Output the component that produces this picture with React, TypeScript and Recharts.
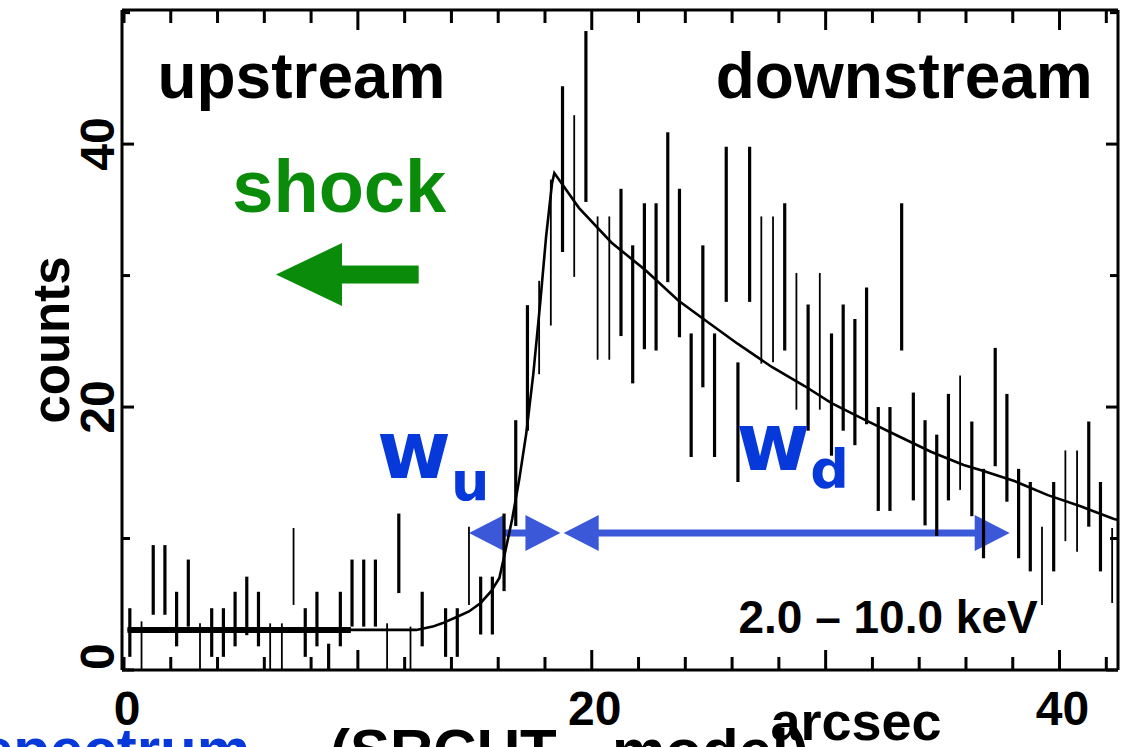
import React from 'react';
import {
  ComposedChart,
  XAxis,
  YAxis,
  Scatter,
  ErrorBar,
  Line,
  ReferenceLine,
  ReferenceDot,
  Label,
} from 'recharts';

const FONT = '"Liberation Sans", Arial, Helvetica, sans-serif';
const W_FONT = '"DejaVu Sans", Verdana, sans-serif';
const GREEN = '#0a8c0a';
const ARROW_BLUE = '#3b58d9';
const TEXT_BLUE = '#0638da';

// 0.5" profile bins (arcsec)
const binCenters = [
  0.25, 0.75, 1.25, 1.75, 2.25, 2.75, 3.25, 3.75, 4.25, 4.75,
  5.25, 5.75, 6.25, 6.75, 7.25, 7.75, 8.25, 8.75, 9.25, 9.75,
  10.25, 10.75, 11.25, 11.75, 12.25, 12.75, 13.25, 13.75, 14.25, 14.75,
  15.25, 15.75, 16.25, 16.75, 17.25, 17.75, 18.25, 18.75, 19.25, 19.75,
  20.25, 20.75, 21.25, 21.75, 22.25, 22.75, 23.25, 23.75, 24.25, 24.75,
  25.25, 25.75, 26.25, 26.75, 27.25, 27.75, 28.25, 28.75, 29.25, 29.75,
  30.25, 30.75, 31.25, 31.75, 32.25, 32.75, 33.25, 33.75, 34.25, 34.75,
  35.25, 35.75, 36.25, 36.75, 37.25, 37.75, 38.25, 38.75, 39.25, 39.75,
  40.25, 40.75, 41.25, 41.75, 42.25,
];

// lower / upper end of each error bar (counts); null = empty bin
const countsLow = [
  1.0, 0, 4.2, 4.2, 1.8, 3.3, 0, 1.0, 1.0, 1.8,
  2.65, 1.8, 0, 0, 4.95, 1.0, 1.8, 0, 1.8, 3.3,
  3.3, 3.3, 0, 5.85, 0, 1.8, null, 1.0, 1.0, 4.95,
  2.7, 2.7, 6.0, 10.95, 18.2, 22.5, 26.2, 31.8, 29.9, 35.6,
  23.6, 23.6, 25.4, 21.8, 24.4, 24.3, 29.5, 25.3, 16.2, 21.5,
  16.2, 28.0, 14.3, 28.0, 23.3, 23.4, 24.3, 19.8, 18.2, 19.8,
  16.3, 18.2, 17.1, 18.7, 12.1, 12.1, 24.3, 12.9, 11.0, 10.2,
  12.9, 13.7, 11.7, 8.5, 15.5, 12.8, 8.5, 7.5, 4.95, 7.5,
  9.8, 9.0, 10.9, 7.5, 5.1,
];
const countsHigh = [
  4.7, 3.7, 9.5, 9.5, 5.95, 8.4, 3.55, 4.7, 4.7, 5.95,
  7.1, 5.95, 3.55, 3.55, 10.8, 4.7, 5.95, 2.0, 5.95, 8.4,
  8.4, 8.4, 3.55, 11.9, 3.3, 5.95, null, 4.7, 4.7, 10.9,
  7.1, 7.1, 11.9, 19.0, 27.75, 29.6, 37.3, 44.4, 42.2, 48.6,
  34.5, 34.5, 36.6, 32.3, 35.5, 35.5, 40.9, 36.6, 25.6, 32.3,
  25.6, 39.8, 23.4, 39.8, 34.5, 34.5, 35.5, 30.2, 27.8, 30.2,
  25.6, 27.8, 26.7, 29.1, 20.0, 20.0, 35.5, 21.1, 19.0, 17.9,
  21.0, 22.4, 18.9, 15.3, 24.5, 21.0, 15.3, 14.3, 10.9, 14.3,
  16.7, 16.7, 18.9, 14.3, 10.8,
];
// bins printed with a hairline instead of the heavy stroke
const thinBins = [
  0.75, 3.25, 6.25, 6.75, 7.25, 11.25, 12.25, 14.75, 17.75, 18.25, 19.25,
  20.25, 20.75, 27.25, 27.75, 28.75, 29.75, 35.75, 39.25, 40.25, 40.75, 42.25,
];

// SRCUT model profile
const fitX = [
  0.15, 9.7, 12.5, 13.2, 13.6, 14.25, 14.75, 15.25, 15.7, 16.05, 16.3, 16.6,
  16.9, 17.2, 17.5, 17.8, 18.05, 18.3, 18.4, 19.45, 20.85, 22.3, 23.7, 24.85,
  26.25, 27.7, 29.1, 30.25, 31.7, 33.1, 34.5, 35.9, 36.65, 38.1, 39.5, 40.9,
  42.3, 42.5,
];
const fitY = [
  3.05, 3.05, 3.05, 3.3, 3.55, 4.05, 4.45, 5.1, 6.0, 7.0, 9.0, 11.5,
  14.5, 18.0, 22.5, 28.0, 33.0, 37.0, 37.8, 35.15, 32.5, 30.4, 28.1, 26.6,
  24.8, 23.05, 21.6, 20.3, 19.0, 17.8, 16.6, 15.6, 15.2, 14.35, 13.3, 12.45,
  11.5, 11.4,
];
const fitHeavyUntil = 9.7;

const xTicks = [0, 2, 4, 6, 8, 10, 12, 14, 16, 18, 20, 22, 24, 26, 28, 30, 32, 34, 36, 38, 40, 42];
const xMajorTicks = [10, 20, 30, 40];
const xTickLabels = [0, 20, 40];
const yTicks = [0, 10, 20, 30, 40, 50];
const yTickLabels = [0, 20, 40];

// widths W_u / W_d and the shock direction arrow (arcsec, counts)
const wuSpan = [14.75, 18.66];
const wdSpan = [18.8, 37.87];
const spanLevel = 10.42;
const shockArrow = [12.6, 6.5];
const shockLevel = 30.08;

const bars = binCenters.flatMap((x, i) => {
  const lo = countsLow[i];
  const hi = countsHigh[i];
  if (lo == null || hi == null) return [];
  return [{ x, y: (lo + hi) / 2, err: (hi - lo) / 2, thin: thinBins.includes(x) }];
});
const heavyBars = bars.filter((b) => !b.thin);
const lightBars = bars.filter((b) => b.thin);

const fit = fitX.map((x, i) => ({ x, y: fitY[i] }));
const fitFlat = fit.filter((p) => p.x <= fitHeavyUntil);

const BottomTick = ({ x, y, payload }: any) => {
  const v = payload.value;
  const len = xMajorTicks.includes(v) ? 20 : 13;
  return (
    <g>
      <line x1={x} x2={x} y1={y} y2={y - len} stroke="#000" strokeWidth={3} />
      {xTickLabels.includes(v) && (
        <text x={x + 3} y={y + 55} textAnchor="middle" fontFamily={FONT} fontWeight="bold" fontSize={48} fill="#000">
          {v}
        </text>
      )}
    </g>
  );
};

const TopTick = ({ x, y, payload }: any) => {
  const len = xMajorTicks.includes(payload.value) ? 20 : 13;
  return <line x1={x} x2={x} y1={y} y2={y + len} stroke="#000" strokeWidth={3} />;
};

const LeftTick = ({ x, y, payload }: any) => {
  const v = payload.value;
  const len = yTickLabels.includes(v) ? 12 : 8;
  return (
    <g>
      <line x1={x} x2={x + len} y1={y} y2={y} stroke="#000" strokeWidth={3} />
      {yTickLabels.includes(v) && (
        <text
          transform={`translate(${x - 8}, ${y}) rotate(-90)`}
          textAnchor={v === 0 ? 'start' : 'middle'}
          fontFamily={FONT}
          fontWeight="bold"
          fontSize={48}
          fill="#000"
        >
          {v}
        </text>
      )}
    </g>
  );
};

const RightTick = ({ x, y, payload }: any) => {
  const len = yTickLabels.includes(payload.value) ? 12 : 8;
  return <line x1={x} x2={x - len} y1={y} y2={y} stroke="#000" strokeWidth={3} />;
};

const CountsTitle = ({ viewBox }: any) => (
  <text
    transform={`translate(${viewBox.x + 69}, ${viewBox.y + viewBox.height / 2}) rotate(-90)`}
    textAnchor="middle"
    fontFamily={FONT}
    fontWeight="bold"
    fontSize={51}
    fill="#000"
  >
    counts
  </text>
);

// axis title plus the slide caption running off the bottom edge
const ArcsecTitle = ({ viewBox }: any) => (
  <g fontFamily={FONT} fontWeight="bold">
    <text x={250} y={viewBox.y + 100} textAnchor="end" fontSize={60} fill={TEXT_BLUE}>
      spectrum
    </text>
    <text x={330} y={viewBox.y + 101} fontSize={60} fill="#000">
      (SRCUT
    </text>
    <text x={612} y={viewBox.y + 101} fontSize={60} fill="#000">
      model)
    </text>
    <text x={viewBox.x + 734} y={viewBox.y + 70} textAnchor="middle" fontSize={54} fill="#000">
      arcsec
    </text>
  </g>
);

const doubleArrow = (p: any) => {
  const { x1, x2, y1 } = p;
  const head = 35;
  const half = 18;
  const l = Math.min(x1, x2);
  const r = Math.max(x1, x2);
  return (
    <g fill={ARROW_BLUE}>
      <rect x={l + head - 1} y={y1 - 3.5} width={r - l - 2 * head + 2} height={7} />
      <polygon points={`${l},${y1} ${l + head},${y1 - half} ${l + head},${y1 + half}`} />
      <polygon points={`${r},${y1} ${r - head},${y1 - half} ${r - head},${y1 + half}`} />
    </g>
  );
};

const shockShape = (p: any) => {
  const { x1, x2, y1 } = p;
  const head = 66;
  const half = 31.5;
  return (
    <g fill={GREEN}>
      <rect x={x2 + head - 1} y={y1 - 9} width={x1 - x2 - head + 1} height={18} />
      <polygon points={`${x2},${y1} ${x2 + head},${y1 - half} ${x2 + head},${y1 + half}`} />
    </g>
  );
};

const note = (key: string, x: number, y: number, content: React.ReactNode) => (
  <ReferenceDot
    key={key}
    x={x}
    y={y}
    r={0}
    ifOverflow="visible"
    shape={(p: any) => <g transform={`translate(${p.cx}, ${p.cy})`}>{content}</g>}
  />
);

const noShape = () => <g />;

export default function App() {
  return (
    <div style={{ position: 'absolute', left: 0, top: 0, width: 1130, height: 747, overflow: 'hidden', background: '#fff' }}>
      <ComposedChart width={1130} height={747} margin={{ top: 0, right: 0, bottom: 0, left: 0 }}>
        <XAxis
          dataKey="x"
          type="number"
          domain={[-0.085, 42.5]}
          allowDataOverflow
          ticks={xTicks}
          interval={0}
          height={77}
          tickSize={0}
          tickMargin={0}
          tickLine={false}
          axisLine={{ stroke: '#000', strokeWidth: 3 }}
          tick={BottomTick}
        >
          <Label content={ArcsecTitle} />
        </XAxis>
        <XAxis
          xAxisId="top"
          orientation="top"
          dataKey="x"
          type="number"
          domain={[-0.085, 42.5]}
          allowDataOverflow
          ticks={xTicks}
          interval={0}
          height={10}
          tickSize={0}
          tickMargin={0}
          tickLine={false}
          axisLine={{ stroke: '#000', strokeWidth: 3 }}
          tick={TopTick}
        />
        <YAxis
          dataKey="y"
          type="number"
          domain={[0, 50.2]}
          allowDataOverflow
          ticks={yTicks}
          interval={0}
          width={122}
          tickSize={0}
          tickMargin={0}
          tickLine={false}
          axisLine={{ stroke: '#000', strokeWidth: 3 }}
          tick={LeftTick}
        >
          <Label content={CountsTitle} />
        </YAxis>
        <YAxis
          yAxisId="right"
          orientation="right"
          dataKey="y"
          type="number"
          domain={[0, 50.2]}
          allowDataOverflow
          ticks={yTicks}
          interval={0}
          width={12}
          tickSize={0}
          tickMargin={0}
          tickLine={false}
          axisLine={{ stroke: '#000', strokeWidth: 3 }}
          tick={RightTick}
        />

        <ReferenceLine
          segment={[{ x: wuSpan[0], y: spanLevel }, { x: wuSpan[1], y: spanLevel }]}
          shape={doubleArrow}
          ifOverflow="visible"
        />
        <ReferenceLine
          segment={[{ x: wdSpan[0], y: spanLevel }, { x: wdSpan[1], y: spanLevel }]}
          shape={doubleArrow}
          ifOverflow="visible"
        />
        <ReferenceLine
          segment={[{ x: shockArrow[0], y: shockLevel }, { x: shockArrow[1], y: shockLevel }]}
          shape={shockShape}
          ifOverflow="visible"
        />

        <Scatter data={heavyBars} shape={noShape} isAnimationActive={false}>
          <ErrorBar dataKey="err" direction="y" width={0} stroke="#000" strokeWidth={3.2} isAnimationActive={false} />
        </Scatter>
        <Scatter data={lightBars} shape={noShape} isAnimationActive={false}>
          <ErrorBar dataKey="err" direction="y" width={0} stroke="#000" strokeWidth={1.8} isAnimationActive={false} />
        </Scatter>
        <Line data={fit} dataKey="y" type="linear" stroke="#000" strokeWidth={2.6} dot={false} isAnimationActive={false} />
        <Line data={fitFlat} dataKey="y" type="linear" stroke="#000" strokeWidth={6} dot={false} isAnimationActive={false} />

        {note(
          'up',
          1.43,
          43.5,
          <text fontFamily={FONT} fontWeight="bold" fontSize={64} fill="#000">
            upstream
          </text>,
        )}
        {note(
          'down',
          41.42,
          43.5,
          <text textAnchor="end" fontFamily={FONT} fontWeight="bold" fontSize={64} fill="#000">
            downstream
          </text>,
        )}
        {note(
          'shock',
          4.63,
          34.8,
          <text fontFamily={FONT} fontWeight="bold" fontSize={74} fill={GREEN}>
            shock
          </text>,
        )}
        {note(
          'wu',
          10.82,
          14.64,
          <text fontFamily={W_FONT} fontWeight="bold" fill={TEXT_BLUE}>
            <tspan fontSize={80}>w</tspan>
            <tspan fontSize={54} dy={22}>u</tspan>
          </text>,
        )}
        {note(
          'wd',
          26.18,
          15.25,
          <text fontFamily={W_FONT} fontWeight="bold" fill={TEXT_BLUE}>
            <tspan fontSize={80}>w</tspan>
            <tspan fontSize={54} dy={18}>d</tspan>
          </text>,
        )}
        {note(
          'band',
          26.27,
          2.85,
          <text fontFamily={FONT} fontWeight="bold" fontSize={46} fill="#000">
            2.0 – 10.0 keV
          </text>,
        )}
      </ComposedChart>
    </div>
  );
}
